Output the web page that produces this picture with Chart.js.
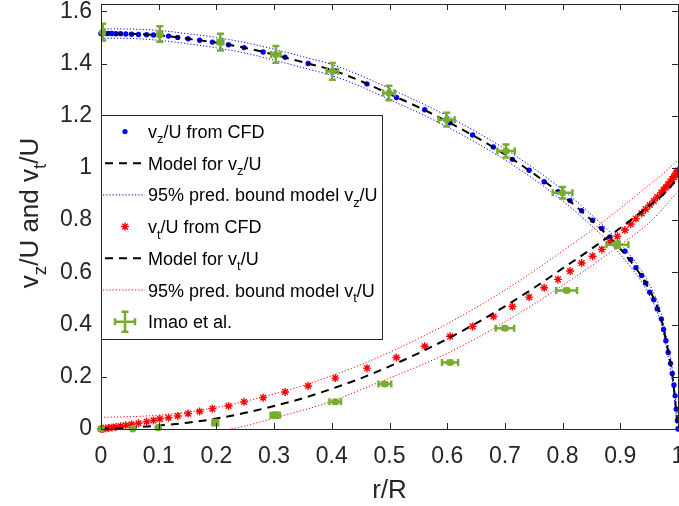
<!DOCTYPE html>
<html>
<head>
<meta charset="utf-8">
<script src="https://cdn.jsdelivr.net/npm/chart.js@4/dist/chart.umd.min.js"></script>
<style>
  html, body { margin: 0; padding: 0; background: #fff; }
  #wrap { width: 679px; height: 506px; }
</style>
</head>
<body>
<div id="wrap"><canvas id="chart" width="679" height="506"></canvas></div>
<script>
// ===== data =====
const cfdR = [0, 0.001, 0.004, 0.008, 0.013, 0.019, 0.026, 0.034, 0.043, 0.053,
  0.065, 0.079, 0.091, 0.102, 0.117, 0.133, 0.151, 0.171, 0.193, 0.221,
  0.248, 0.281, 0.319, 0.359, 0.406, 0.461, 0.512, 0.561, 0.605, 0.644,
  0.68, 0.713, 0.742, 0.768, 0.792, 0.813, 0.833, 0.852, 0.868, 0.882,
  0.895, 0.908, 0.918, 0.927, 0.937, 0.944, 0.951, 0.958, 0.964, 0.971,
  0.975, 0.979, 0.983, 0.987, 0.99, 0.993, 0.995, 0.997, 0.999, 1.0];
const vzCfd = [1.515, 1.515, 1.515, 1.515, 1.515, 1.515, 1.514, 1.514, 1.513, 1.512,
  1.511, 1.510, 1.509, 1.507, 1.505, 1.500, 1.495, 1.489, 1.482, 1.472,
  1.461, 1.444, 1.424, 1.400, 1.372, 1.322, 1.270, 1.223, 1.173, 1.126,
  1.080, 1.033, 0.991, 0.947, 0.909, 0.875, 0.836, 0.800, 0.768, 0.736,
  0.708, 0.681, 0.649, 0.618, 0.588, 0.559, 0.524, 0.495, 0.460, 0.422,
  0.381, 0.338, 0.293, 0.251, 0.213, 0.169, 0.127, 0.076, 0.033, 0];
const vtCfd = [0, 0, 0.001, 0.002, 0.004, 0.006, 0.008, 0.011, 0.014, 0.018,
  0.022, 0.028, 0.033, 0.039, 0.043, 0.050, 0.059, 0.067, 0.078, 0.088,
  0.104, 0.120, 0.142, 0.165, 0.195, 0.233, 0.274, 0.317, 0.355, 0.393,
  0.431, 0.469, 0.505, 0.541, 0.573, 0.605, 0.636, 0.662, 0.688, 0.717,
  0.738, 0.762, 0.785, 0.806, 0.826, 0.842, 0.858, 0.874, 0.888, 0.905,
  0.916, 0.926, 0.937, 0.948, 0.957, 0.966, 0.972, 0.979, 0.986, 0.990];

const modelR = [0, 0.05, 0.1, 0.15, 0.2, 0.25, 0.3, 0.35, 0.4, 0.45, 0.5, 0.55,
  0.6, 0.65, 0.7, 0.75, 0.8, 0.85, 0.9, 0.95, 0.97, 0.98, 0.99, 1.0];
const vzModel = [1.515, 1.514, 1.508, 1.495, 1.480, 1.460, 1.434, 1.405, 1.375, 1.333, 1.283, 1.233,
  1.178, 1.118, 1.052, 0.978, 0.895, 0.800, 0.690, 0.535, 0.430, 0.330, 0.210, 0];
const vzUpper = [1.533, 1.532, 1.527, 1.514, 1.500, 1.480, 1.455, 1.426, 1.396, 1.354, 1.304, 1.254,
  1.199, 1.139, 1.073, 0.999, 0.916, 0.821, 0.711, 0.556, 0.451, 0.351, 0.231, 0.021];
const vzLower = [1.497, 1.496, 1.489, 1.476, 1.460, 1.440, 1.413, 1.384, 1.354, 1.312, 1.262, 1.212,
  1.157, 1.097, 1.031, 0.957, 0.874, 0.779, 0.669, 0.514, 0.409, 0.309, 0.189, -0.021];
const vtModel = [0, 0.005, 0.013, 0.024, 0.040, 0.062, 0.088, 0.118, 0.154, 0.194, 0.240, 0.290,
  0.345, 0.405, 0.470, 0.540, 0.615, 0.690, 0.770, 0.855, 0.890, 0.910, 0.935, 0.960];
const vtUpper = [0.045, 0.047, 0.053, 0.065, 0.083, 0.106, 0.134, 0.166, 0.204, 0.246, 0.294, 0.346,
  0.403, 0.465, 0.532, 0.604, 0.682, 0.760, 0.845, 0.935, 0.970, 0.990, 1.010, 1.030];
const vtLower = [-0.045, -0.042, -0.037, -0.026, -0.010, 0.012, 0.042, 0.072, 0.106, 0.150, 0.195, 0.240,
  0.290, 0.347, 0.410, 0.478, 0.550, 0.625, 0.705, 0.790, 0.835, 0.860, 0.885, 0.910];

// Imao et al. measurements with error half-widths
const imaoR  = [0.003, 0.102, 0.207, 0.303, 0.401, 0.499, 0.599, 0.702, 0.800, 0.895,
  0.807, 0.700, 0.605, 0.492, 0.406, 0.302, 0.198, 0.099, 0.055, 0.0];
const imaoV  = [1.520, 1.513, 1.482, 1.435, 1.370, 1.287, 1.185, 1.065, 0.905, 0.706,
  0.531, 0.386, 0.255, 0.172, 0.104, 0.053, 0.024, 0.005, 0.0, 0.0];
const imaoEr = [0.003, 0.004, 0.005, 0.008, 0.010, 0.010, 0.014, 0.015, 0.017, 0.019,
  0.018, 0.016, 0.014, 0.011, 0.010, 0.008, 0.005, 0.002, 0.002, 0.0];
const imaoEv = [0.032, 0.030, 0.032, 0.032, 0.032, 0.028, 0.026, 0.025, 0.022, 0.012,
  0.006, 0.006, 0.006, 0.006, 0.006, 0.010, 0.010, 0.004, 0.004, 0.004];

const xTicks = [0, 0.1, 0.2, 0.3, 0.4, 0.5, 0.6, 0.7, 0.8, 0.9, 1];
const xTickLabels = ["0", "0.1", "0.2", "0.3", "0.4", "0.5", "0.6", "0.7", "0.8", "0.9", "1"];
const yTicks = [0, 0.2, 0.4, 0.6, 0.8, 1, 1.2, 1.4, 1.6];
const yTickLabels = ["0", "0.2", "0.4", "0.6", "0.8", "1", "1.2", "1.4", "1.6"];

const BLUE = "#0000ff";
const RED = "#ff0000";
const GREEN = "#77ac30";
const AXIS = "#262626";
const FONT = '"Liberation Sans", Arial, sans-serif';

const pts = (xs, ys) => xs.map((x, i) => ({ x: x, y: ys[i] }));

// ===== helpers =====
function drawRich(ctx, parts, x, y, size) {
  // parts: [text, isSub]
  let cx = x;
  parts.forEach(([t, sub]) => {
    const s = sub ? size * 0.72 : size;
    ctx.font = s + "px " + FONT;
    ctx.fillText(t, cx, y + (sub ? size * 0.3 : 0));
    cx += ctx.measureText(t).width;
  });
  return cx - x;
}
function richWidth(ctx, parts, size) {
  let w = 0;
  parts.forEach(([t, sub]) => {
    ctx.font = (sub ? size * 0.72 : size) + "px " + FONT;
    w += ctx.measureText(t).width;
  });
  return w;
}

/* ===== error bars for Imao et al. ===== */
const errorBars = {
  id: "errorBars",
  afterDatasetsDraw(chart) {
    const { ctx, chartArea: a, scales: { x, y } } = chart;
    ctx.save();
    ctx.beginPath();
    ctx.rect(a.left, a.top, a.right - a.left, a.bottom - a.top);
    ctx.clip();
    ctx.strokeStyle = GREEN;
    ctx.lineWidth = 2.5;
    const cap = 3.5;
    imaoR.forEach((r, i) => {
      const cx = x.getPixelForValue(r), cy = y.getPixelForValue(imaoV[i]);
      const y1 = y.getPixelForValue(imaoV[i] - imaoEv[i]);
      const y2 = y.getPixelForValue(imaoV[i] + imaoEv[i]);
      const x1 = x.getPixelForValue(r - imaoEr[i]);
      const x2 = x.getPixelForValue(r + imaoEr[i]);
      ctx.beginPath();
      ctx.moveTo(cx, y1); ctx.lineTo(cx, y2);
      ctx.moveTo(cx - cap, y1); ctx.lineTo(cx + cap, y1);
      ctx.moveTo(cx - cap, y2); ctx.lineTo(cx + cap, y2);
      if (imaoEr[i] > 0) {
        ctx.moveTo(x1, cy); ctx.lineTo(x2, cy);
        ctx.moveTo(x1, cy - cap); ctx.lineTo(x1, cy + cap);
        ctx.moveTo(x2, cy - cap); ctx.lineTo(x2, cy + cap);
      }
      ctx.stroke();
    });
    ctx.restore();
  }
};

/* ===== MATLAB style box, ticks, titles, legend ===== */
const decorations = {
  id: "decorations",
  afterDraw(chart) {
    const { ctx, chartArea: a, scales: { x, y } } = chart;
    ctx.save();
    // box
    ctx.strokeStyle = AXIS;
    ctx.lineWidth = 1;
    ctx.strokeRect(a.left + 0.5, a.top + 0.5, a.right - a.left, a.bottom - a.top);
    // inward ticks on all four sides
    const tl = 6;
    ctx.beginPath();
    xTicks.forEach(v => {
      const px = Math.round(x.getPixelForValue(v)) + 0.5;
      ctx.moveTo(px, a.bottom); ctx.lineTo(px, a.bottom - tl);
      ctx.moveTo(px, a.top); ctx.lineTo(px, a.top + tl);
    });
    yTicks.forEach(v => {
      const py = Math.round(y.getPixelForValue(v)) + 0.5;
      ctx.moveTo(a.left, py); ctx.lineTo(a.left + tl, py);
      ctx.moveTo(a.right, py); ctx.lineTo(a.right - tl, py);
    });
    ctx.stroke();

    // legend
    const lx = a.left + 0.5, ly = 115.5, lw = 281, lh = 224;
    ctx.fillStyle = "#fff";
    ctx.fillRect(lx, ly, lw, lh);
    ctx.strokeStyle = AXIS;
    ctx.strokeRect(lx, ly, lw, lh);
    const rows = [
      { kind: "dot",  parts: [["v"], ["z", 1], ["/U from CFD"]] },
      { kind: "dash", parts: [["Model for v"], ["z", 1], ["/U"]] },
      { kind: "dotB", parts: [["95% pred. bound model v"], ["z", 1], ["/U"]] },
      { kind: "star", parts: [["v"], ["t", 1], ["/U from CFD"]] },
      { kind: "dash", parts: [["Model for v"], ["t", 1], ["/U"]] },
      { kind: "dotR", parts: [["95% pred. bound model v"], ["t", 1], ["/U"]] },
      { kind: "err",  parts: [["Imao et al."]] }
    ];
    rows.forEach((row, i) => {
      const ry = 131.5 + i * 31.7;
      const sx = 125;
      ctx.save();
      if (row.kind === "dot") {
        ctx.fillStyle = BLUE;
        ctx.beginPath(); ctx.arc(sx, ry, 2.6, 0, Math.PI * 2); ctx.fill();
      } else if (row.kind === "star") {
        ctx.strokeStyle = RED; ctx.lineWidth = 1.4;
        ctx.beginPath();
        for (let k = 0; k < 4; k++) {
          const ang = k * Math.PI / 4;
          ctx.moveTo(sx - 4 * Math.cos(ang), ry - 4 * Math.sin(ang));
          ctx.lineTo(sx + 4 * Math.cos(ang), ry + 4 * Math.sin(ang));
        }
        ctx.stroke();
      } else if (row.kind === "dash") {
        ctx.strokeStyle = "#000"; ctx.lineWidth = 2; ctx.setLineDash([8, 6]);
        ctx.beginPath(); ctx.moveTo(105, ry); ctx.lineTo(145, ry); ctx.stroke();
      } else if (row.kind === "dotB" || row.kind === "dotR") {
        ctx.strokeStyle = row.kind === "dotB" ? BLUE : RED;
        ctx.lineWidth = 1; ctx.setLineDash([1.2, 2]);
        ctx.beginPath(); ctx.moveTo(103, ry); ctx.lineTo(145, ry); ctx.stroke();
      } else if (row.kind === "err") {
        ctx.strokeStyle = GREEN; ctx.lineWidth = 2.5;
        ctx.beginPath();
        ctx.moveTo(sx, ry - 10); ctx.lineTo(sx, ry + 10);
        ctx.moveTo(sx - 3.5, ry - 10); ctx.lineTo(sx + 3.5, ry - 10);
        ctx.moveTo(sx - 3.5, ry + 10); ctx.lineTo(sx + 3.5, ry + 10);
        ctx.moveTo(sx - 10, ry); ctx.lineTo(sx + 10, ry);
        ctx.moveTo(sx - 10, ry - 3.5); ctx.lineTo(sx - 10, ry + 3.5);
        ctx.moveTo(sx + 10, ry - 3.5); ctx.lineTo(sx + 10, ry + 3.5);
        ctx.stroke();
      }
      ctx.restore();
      ctx.fillStyle = "#000";
      ctx.textBaseline = "alphabetic";
      ctx.textAlign = "left";
      drawRich(ctx, row.parts, 148, ry + 6.5, 18);
    });

    // axis titles
    ctx.fillStyle = AXIS;
    ctx.textAlign = "left";
    ctx.textBaseline = "alphabetic";
    const xt = [["r/R"]];
    const xw = richWidth(ctx, xt, 26);
    drawRich(ctx, xt, (a.left + a.right) / 2 - xw / 2, 498, 26);

    const yt = [["v"], ["z", 1], ["/U and v"], ["t", 1], ["/U"]];
    const yw = richWidth(ctx, yt, 26);
    ctx.translate(38, 213);
    ctx.rotate(-Math.PI / 2);
    drawRich(ctx, yt, -yw / 2, 0, 26);
    ctx.restore();
  }
};

/* ===== chart ===== */
const ctx = document.getElementById("chart").getContext("2d");

new Chart(ctx, {
  type: "scatter",
  data: {
    datasets: [
      { label: "vz CFD", data: pts(cfdR, vzCfd), showLine: false, pointStyle: "circle",
        pointRadius: 2.7, pointBackgroundColor: BLUE, pointBorderWidth: 0, clip: 3, order: 9 },
      { label: "vz model", data: pts(modelR, vzModel), showLine: true, borderColor: "#000",
        borderWidth: 2, borderDash: [8, 6], pointRadius: 0, cubicInterpolationMode: "monotone", order: 8 },
      { label: "vz upper", data: pts(modelR, vzUpper), showLine: true, borderColor: BLUE,
        borderWidth: 1, borderDash: [1.2, 2], pointRadius: 0, cubicInterpolationMode: "monotone", order: 7 },
      { label: "vz lower", data: pts(modelR, vzLower), showLine: true, borderColor: BLUE,
        borderWidth: 1, borderDash: [1.2, 2], pointRadius: 0, cubicInterpolationMode: "monotone", order: 6 },
      { label: "vt CFD", data: pts(cfdR, vtCfd), showLine: false, pointStyle: "star",
        pointRadius: 4, pointBorderColor: RED, pointBorderWidth: 1.4, clip: 4, order: 5 },
      { label: "vt model", data: pts(modelR, vtModel), showLine: true, borderColor: "#000",
        borderWidth: 2, borderDash: [8, 6], pointRadius: 0, cubicInterpolationMode: "monotone", order: 4 },
      { label: "vt upper", data: pts(modelR, vtUpper), showLine: true, borderColor: RED,
        borderWidth: 1, borderDash: [1.2, 2], pointRadius: 0, cubicInterpolationMode: "monotone", order: 3 },
      { label: "vt lower", data: pts(modelR, vtLower), showLine: true, borderColor: RED,
        borderWidth: 1, borderDash: [1.2, 2], pointRadius: 0, cubicInterpolationMode: "monotone", order: 2 },
      { label: "Imao et al.", data: pts(imaoR, imaoV), showLine: false, pointStyle: "circle",
        pointRadius: 3.5, pointBackgroundColor: GREEN, pointBorderWidth: 0, clip: 5, order: 1 }
    ]
  },
  options: {
    responsive: false,
    animation: false,
    events: [],
    layout: { autoPadding: false, padding: { top: 4, right: 1, left: 0, bottom: 0 } },
    plugins: { legend: { display: false }, tooltip: { enabled: false } },
    scales: {
      x: {
        type: "linear", min: 0, max: 1,
        afterBuildTicks: s => { s.ticks = xTicks.map(v => ({ value: v })); },
        afterFit: s => { s.height = 77; s.paddingLeft = 0; s.paddingRight = 0; },
        grid: { display: false, drawTicks: false },
        border: { display: false },
        ticks: {
          autoSkip: false, maxRotation: 0, padding: 14, color: AXIS,
          font: { family: FONT, size: 23 },
          callback: (v, i) => xTickLabels[i]
        }
      },
      y: {
        type: "linear", min: 0, max: 1.628,
        afterBuildTicks: s => { s.ticks = yTicks.map(v => ({ value: v })); },
        afterFit: s => { s.width = 101; s.paddingTop = 0; s.paddingBottom = 0; },
        grid: { display: false, drawTicks: false },
        border: { display: false },
        ticks: {
          padding: 9, color: AXIS,
          font: { family: FONT, size: 23 },
          callback: (v, i) => yTickLabels[i]
        }
      }
    }
  },
  plugins: [errorBars, decorations]
});
</script>
</body>
</html>
